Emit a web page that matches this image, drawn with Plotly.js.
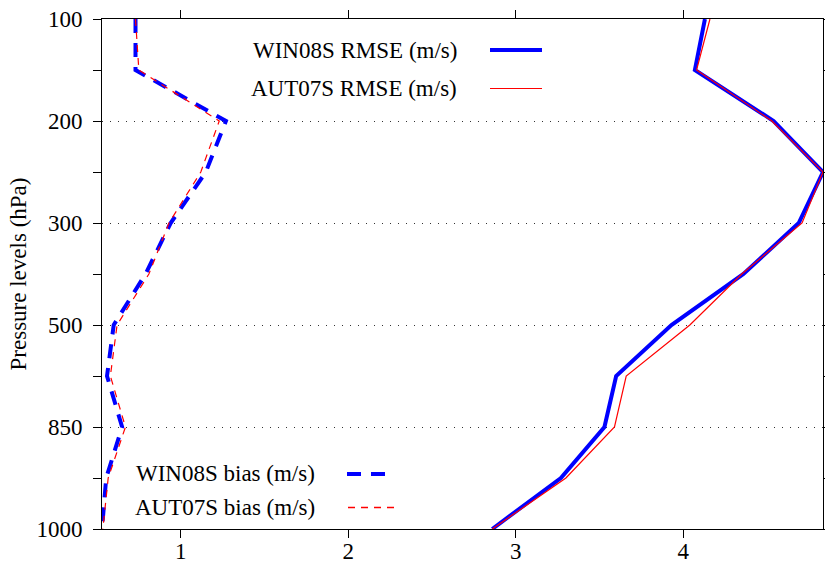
<!DOCTYPE html>
<html>
<head>
<meta charset="utf-8">
<script src="https://cdn.plot.ly/plotly-3.0.1.min.js"></script>
<style>
  html, body { margin: 0; padding: 0; background: #fff; }
  #chart { width: 825px; height: 563px; }
</style>
</head>
<body>
<div id="chart"></div>
<script>
// ---- data ----
const levels = [100, 150, 200, 250, 300, 400, 500, 700, 850, 925, 1000];
const tickLabels = [100, 200, 300, 500, 850, 1000];

const rmseWIN08S = [4.13, 4.07, 4.54, 4.835, 4.69, 4.36, 3.93, 3.60, 3.53, 3.27, 2.86];
const rmseAUT07S = [4.16, 4.08, 4.53, 4.835, 4.71, 4.35, 4.04, 3.66, 3.59, 3.30, 2.86];
const biasWIN08S = [0.73, 0.73, 1.27, 1.15, 0.94, 0.79, 0.60, 0.56, 0.65, 0.555, 0.53];
const biasAUT07S = [0.73, 0.75, 1.23, 1.12, 0.93, 0.81, 0.62, 0.58, 0.67, 0.567, 0.535];

const seriesNames = {
  rmseWIN08S: 'WIN08S RMSE (m/s)',
  rmseAUT07S: 'AUT07S RMSE (m/s)',
  biasWIN08S: 'WIN08S bias (m/s)',
  biasAUT07S: 'AUT07S bias (m/s)'
};

// ---- derived ----
const idx = levels.map((_, i) => i);
const majorVals = idx.filter(i => tickLabels.includes(levels[i]));
const minorVals = idx.filter(i => !tickLabels.includes(levels[i]));
const allX = [].concat(rmseWIN08S, rmseAUT07S, biasWIN08S, biasAUT07S);
const xMin = Math.min(...allX), xMax = Math.max(...allX);

const FONT = 'Liberation Serif, Times New Roman, serif';
const BLUE = '#0000ff', RED = '#ff0000';
const BLUE_DASH = '14px,10px', RED_DASH = '7px,6px';

const traces = [
  { x: rmseWIN08S, y: idx, name: seriesNames.rmseWIN08S, mode: 'lines',
    line: { color: BLUE, width: 4 } },
  { x: rmseAUT07S, y: idx, name: seriesNames.rmseAUT07S, mode: 'lines',
    line: { color: RED, width: 1.2 } },
  { x: biasWIN08S, y: idx, name: seriesNames.biasWIN08S, mode: 'lines',
    line: { color: BLUE, width: 4, dash: BLUE_DASH } },
  { x: biasAUT07S, y: idx, name: seriesNames.biasAUT07S, mode: 'lines',
    line: { color: RED, width: 1.2, dash: RED_DASH } }
].map(t => Object.assign(t, { type: 'scatter', showlegend: false, hoverinfo: 'skip' }));

// plot frame in pixels
const L = 102, R = 823, T = 19, B = 529, W = 825, H = 563;
const px = x => (x - L) / (R - L);
const py = y => (B - y) / (B - T);

const legendItems = [
  { text: seriesNames.rmseWIN08S, right: 459, y: 50, x0: 490, x1: 542, color: BLUE, width: 4, dash: 'solid' },
  { text: seriesNames.rmseAUT07S, right: 459, y: 88.5, x0: 490, x1: 542, color: RED, width: 1.2, dash: 'solid' },
  { text: seriesNames.biasWIN08S, right: 317, y: 474, x0: 347, x1: 386, color: BLUE, width: 4, dash: BLUE_DASH },
  { text: seriesNames.biasAUT07S, right: 317, y: 507.5, x0: 348, x1: 398, color: RED, width: 1.3, dash: RED_DASH }
];

const annotations = legendItems.map(it => ({
  xref: 'paper', yref: 'paper', x: px(it.right), y: py(it.y),
  xanchor: 'right', yanchor: 'middle', showarrow: false, text: it.text,
  font: { family: FONT, size: 23, color: '#000' }
}));
const shapes = legendItems.map(it => ({
  type: 'line', xref: 'paper', yref: 'paper',
  x0: px(it.x0), x1: px(it.x1), y0: py(it.y), y1: py(it.y),
  line: { color: it.color, width: it.width, dash: it.dash }
}));

const layout = {
  width: W, height: H,
  margin: { l: L, r: W - R, t: T, b: H - B, pad: 0 },
  paper_bgcolor: '#fff', plot_bgcolor: '#fff',
  font: { family: FONT, size: 23, color: '#000' },
  showlegend: false,
  xaxis: {
    range: [xMin, xMax],
    tickmode: 'array', tickvals: [1, 2, 3, 4],
    ticks: 'outside', ticklen: 8, tickwidth: 1, tickcolor: '#000',
    ticklabelstandoff: -7,
    showline: true, linecolor: '#000', linewidth: 1, mirror: 'ticks',
    showgrid: false, zeroline: false,
    tickfont: { family: FONT, size: 23, color: '#000' }
  },
  yaxis: {
    range: [levels.length - 1, 0],
    tickmode: 'array', tickvals: majorVals, ticktext: majorVals.map(i => String(levels[i])),
    ticks: 'outside', ticklen: 8, tickwidth: 1, tickcolor: '#000',
    ticklabelstandoff: 6,
    showline: true, linecolor: '#000', linewidth: 1, mirror: 'ticks',
    showgrid: true, gridcolor: '#333', gridwidth: 1, griddash: '1px,7px',
    zeroline: false,
    minor: { tickmode: 'array', tickvals: minorVals, ticks: 'outside', ticklen: 8,
             tickcolor: '#000', tickwidth: 1, showgrid: false },
    tickfont: { family: FONT, size: 23, color: '#000' },
    title: { text: 'Pressure levels (hPa)', font: { family: FONT, size: 23, color: '#000' }, standoff: 3 }
  },
  annotations: annotations,
  shapes: shapes
};

Plotly.newPlot('chart', traces, layout, { displayModeBar: false, staticPlot: true });
</script>
</body>
</html>
